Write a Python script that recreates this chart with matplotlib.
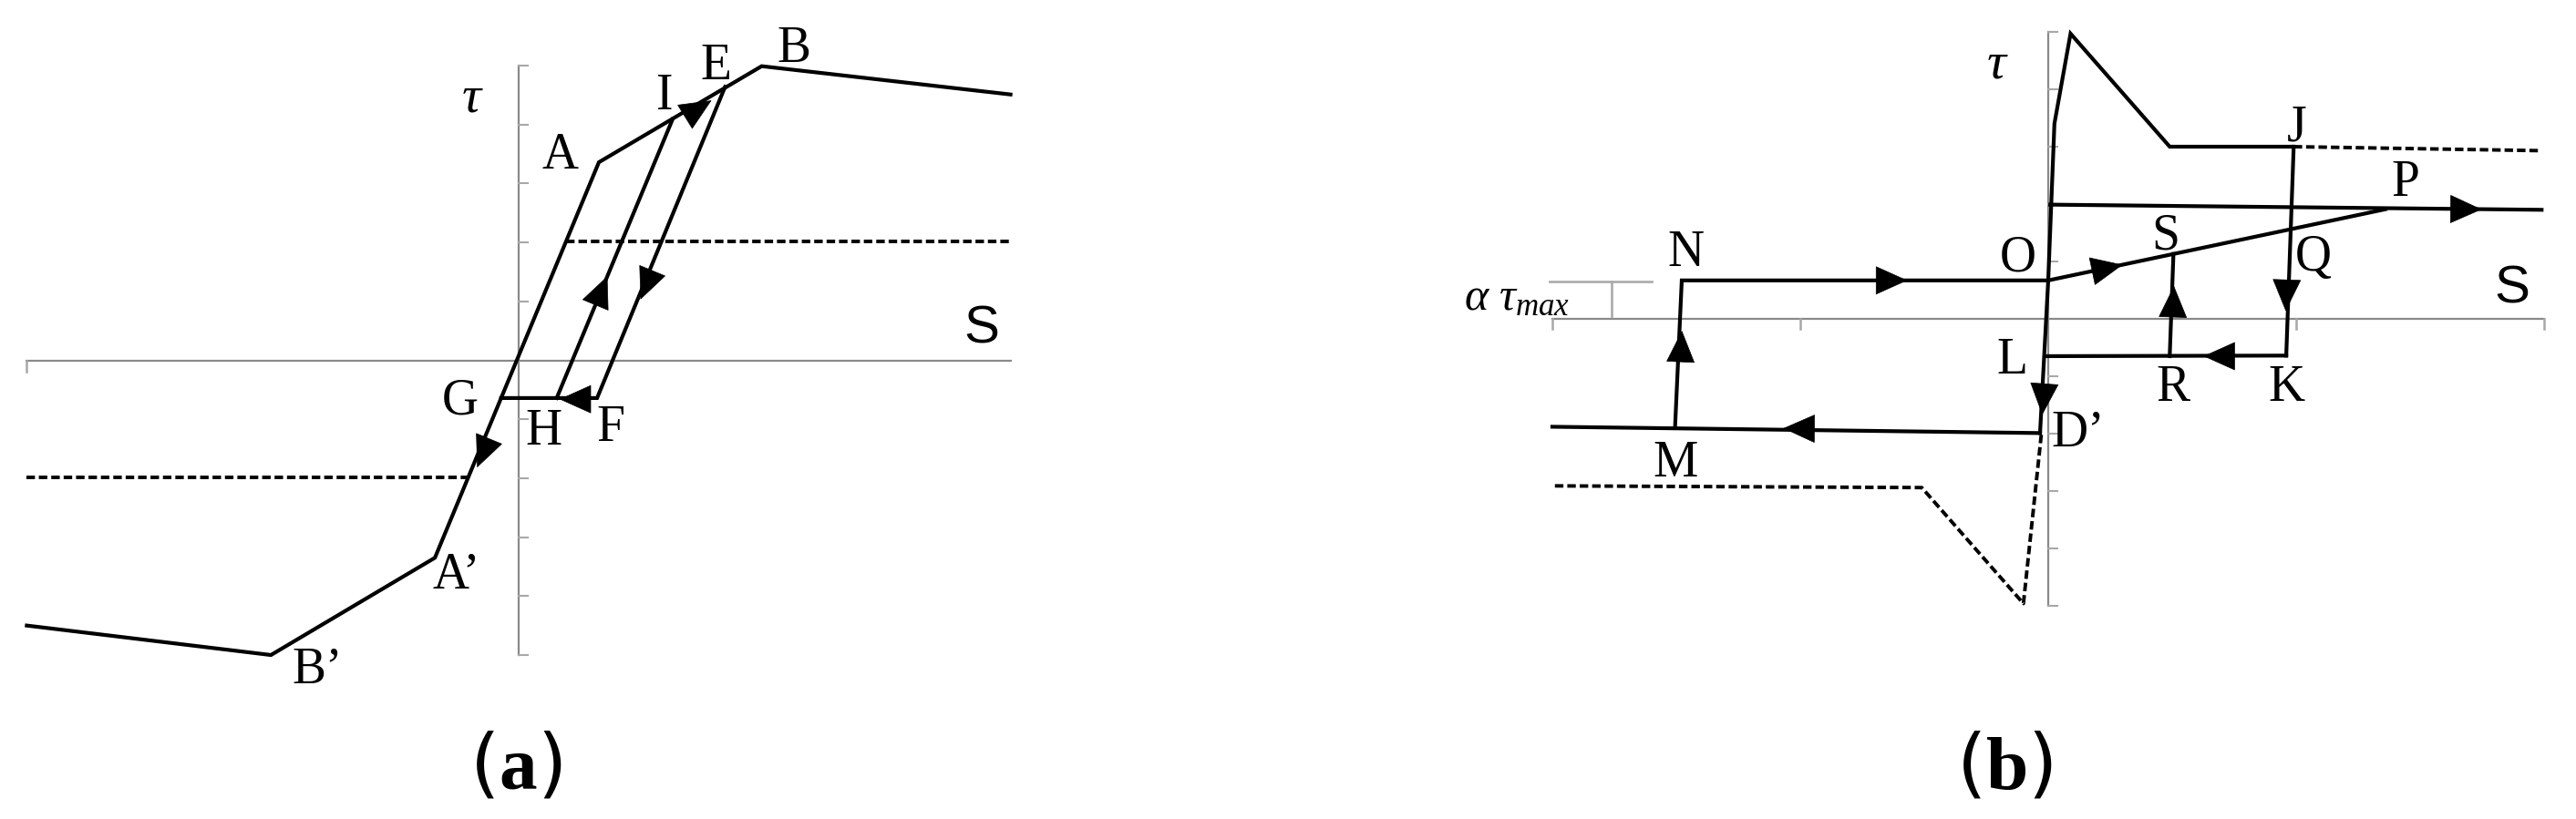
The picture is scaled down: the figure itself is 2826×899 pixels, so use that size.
import numpy as np
import matplotlib
matplotlib.use("Agg")
import matplotlib.pyplot as plt
from matplotlib.patches import FancyArrowPatch

plt.rcParams['mathtext.fontset'] = 'custom'
plt.rcParams['mathtext.rm'] = 'Liberation Serif'
plt.rcParams['mathtext.it'] = 'Liberation Serif:italic'
plt.rcParams['mathtext.bf'] = 'Liberation Serif:bold'

# ---------------- panel (a) data ----------------
a_env_s = [-8.34, -4.20, -1.42, 1.36, 4.12, 8.34]
a_env_t = [-4.50, -5.00, -3.35, 3.36, 4.99, 4.51]
a_unload_s = [3.50, 1.33, -0.297]      # E -> F -> G
a_unload_t = [4.64, -0.64, -0.64]
a_reload_s = [0.645, 2.61]             # H -> I
a_reload_t = [-0.64, 4.09]
a_dash_up_s = [0.81, 8.34]
a_dash_up_t = [2.01, 2.01]
a_dash_lo_s = [-8.34, -0.86]
a_dash_lo_t = [-1.99, -1.99]
a_labels = ['τ', 'A', 'I', 'E', 'B', 'G', 'H', 'F', 'A’', 'B’']
a_label_s = [-0.80, 0.71, 2.47, 3.34, 4.67, -1.00, 0.42, 1.56, -1.06, -3.42]
a_label_t = [4.43, 3.47, 4.47, 4.99, 5.28, -0.70, -1.22, -1.15, -3.65, -5.26]
a_arrow_s = [3.06, 2.16, 0.94, 1.41, -0.61]
a_arrow_t = [4.28, 1.26, -0.66, 1.20, -1.59]
a_arrow_ds = [0.89, -2.17, -1.0, 1.965, -2.78]
a_arrow_dt = [0.55, -5.28, 0.0, 4.73, -6.71]
a_yticks = [-5, -4, -3, -2, -1, 1, 2, 3, 4, 5]

# ---------------- panel (b) data ----------------
b_env_s = [-0.033, 0.0, 0.025, 0.09, 0.49, 0.99]
b_env_t = [-1.99, 0.67, 3.40, 4.97, 3.00, 3.00]
b_dash_j_s = [0.99, 1.99]
b_dash_j_t = [3.00, 2.93]
b_jk_s = [0.99, 0.96]
b_jk_t = [3.00, -0.64]
b_kl_s = [0.96, -0.011]
b_kl_t = [-0.64, -0.65]
b_rs_s = [0.49, 0.505]
b_rs_t = [-0.65, 1.13]
b_op_s = [0.0, 1.36]
b_op_t = [0.67, 1.91]
b_top_s = [0.008, 1.99]
b_top_t = [1.99, 1.90]
b_dm_s = [-0.033, -2.0]
b_dm_t = [-1.99, -1.88]
b_mno_s = [-1.505, -1.478, 0.0]
b_mno_t = [-1.88, 0.67, 0.67]
b_dash_lo_s = [-0.028, -0.10, -0.51, -1.99]
b_dash_lo_t = [-2.02, -4.96, -2.94, -2.91]
b_labels = ['J', 'P', 'S', 'Q', 'O', 'N', 'L', 'R', 'K', 'D’', 'M']
b_label_s = [1.003, 1.44, 0.472, 1.07, -0.124, -1.46, -0.144, 0.505, 0.96, 0.12, -1.505]
b_label_t = [3.33, 2.36, 1.44, 1.06, 1.05, 1.15, -0.73, -1.21, -1.21, -2.00, -2.52]
b_arrow_s = [-0.627, 0.243, 1.69, 0.96, 0.685, 0.505, -0.02, -1.01, -1.48]
b_arrow_t = [0.67, 0.89, 1.91, 0.39, -0.65, 0.32, -1.42, -1.91, -0.46]
b_arrow_ds = [1.0, 1.36, 1.0, -0.03, -1.0, 0.015, -0.022, -1.0, 0.027]
b_arrow_dt = [0.0, 1.24, -0.045, -3.64, 0.0, 1.78, -1.34, 0.05, 2.55]
b_xticks = [-2, -1, 1, 2]
b_yticks = [-5, -4, -3, -2, -1, 1, 2, 3, 4, 5]

W, H = 2826, 899
fig = plt.figure(figsize=(W / 100, H / 100), dpi=100)
fig.patch.set_facecolor('white')


def make_ax(ox, oy, ux, uy, xlim, ylim):
    x0 = ox + xlim[0] * ux
    x1 = ox + xlim[1] * ux
    ytop = oy - ylim[1] * uy
    ybot = oy - ylim[0] * uy
    ax = fig.add_axes([x0 / W, 1 - ybot / H, (x1 - x0) / W, (ybot - ytop) / H])
    ax.set_xlim(xlim)
    ax.set_ylim(ylim)
    ax.axis('off')
    return ax


AX_C = '#8a8a8a'
TK_C = '#a8a8a8'
LW = 3.0
SERIF = 'Liberation Serif'
LFS = 40


def arrow(ax, x, y, dx, dy, hl_px=32):
    tr = ax.transData
    c = tr.transform((x, y))
    d = tr.transform((x + dx, y + dy)) - c
    d = d / np.hypot(*d)
    tip = tr.inverted().transform(c + d * hl_px * 0.5)
    tail = tr.inverted().transform(c - d * hl_px * 0.5)
    p = FancyArrowPatch(posA=tuple(tail), posB=tuple(tip),
                        arrowstyle='-|>,head_length=1.0,head_width=0.45',
                        mutation_scale=24, lw=0.5, color='black',
                        shrinkA=0, shrinkB=0, zorder=5)
    ax.add_patch(p)


def dashed(ax, s, t):
    ax.plot(s, t, color='black', lw=2.8, dashes=(2.4, 1.1), solid_capstyle='butt')


# ---------------- panel (a) ----------------
ua = 64.7
axa = make_ax(569, 395.5, ua, ua, (-8.7, 8.7), (-6.0, 6.0))
tka = 10 / ua
axa.plot([-8.34, 8.34], [0, 0], color=AX_C, lw=1.6)
axa.plot([0, 0], [-5.0, 5.0], color=AX_C, lw=1.6)
for yt in a_yticks:
    axa.plot([0, tka], [yt, yt], color=TK_C, lw=1.5)
axa.plot([-8.34, -8.34], [0, -12 / ua], color=TK_C, lw=1.8)

axa.plot(a_env_s, a_env_t, color='black', lw=LW, solid_joinstyle='miter')
axa.plot(a_unload_s, a_unload_t, color='black', lw=LW, solid_joinstyle='miter')
axa.plot(a_reload_s, a_reload_t, color='black', lw=LW)
dashed(axa, a_dash_up_s, a_dash_up_t)
dashed(axa, a_dash_lo_s, a_dash_lo_t)
for x, y, dx, dy in zip(a_arrow_s, a_arrow_t, a_arrow_ds, a_arrow_dt):
    arrow(axa, x, y, dx, dy)
for lab, x, y in zip(a_labels, a_label_s, a_label_t):
    if lab == 'τ':
        axa.text(x, y, lab, fontsize=42, family=SERIF, style='italic',
                 ha='center', va='center')
    else:
        axa.text(x, y, lab, fontsize=LFS, family=SERIF, ha='center', va='center')
axa.text(7.85, 0.52, 'S', fontsize=42, family='Liberation Sans', ha='center', va='center')

# ---------------- panel (b) ----------------
uxb, uyb = 272, 63
axb = make_ax(2247, 350, uxb, uyb, (-2.2, 2.1), (-5.4, 5.4))
axb.plot([-2.0, 2.0], [0, 0], color=AX_C, lw=1.6)
axb.plot([0, 0], [-5.0, 5.0], color=AX_C, lw=1.6)
for yt in b_yticks:
    axb.plot([0, 10 / uxb], [yt, yt], color=TK_C, lw=1.5)
for xt in b_xticks:
    axb.plot([xt, xt], [0, -11 / uyb], color=TK_C, lw=1.8)

axb.plot(b_env_s, b_env_t, color='black', lw=LW, solid_joinstyle='miter')
dashed(axb, b_dash_j_s, b_dash_j_t)
for s, t in [(b_jk_s, b_jk_t), (b_kl_s, b_kl_t), (b_rs_s, b_rs_t), (b_op_s, b_op_t),
             (b_top_s, b_top_t), (b_dm_s, b_dm_t), (b_mno_s, b_mno_t)]:
    axb.plot(s, t, color='black', lw=LW, solid_joinstyle='miter')
dashed(axb, b_dash_lo_s, b_dash_lo_t)
for x, y, dx, dy in zip(b_arrow_s, b_arrow_t, b_arrow_ds, b_arrow_dt):
    arrow(axb, x, y, dx, dy)
for lab, x, y in zip(b_labels, b_label_s, b_label_t):
    axb.text(x, y, lab, fontsize=LFS, family=SERIF, ha='center', va='center')
axb.text(-0.21, 4.42, 'τ', fontsize=42, family=SERIF, style='italic',
         ha='center', va='center')
axb.text(1.87, 0.52, 'S', fontsize=42, family='Liberation Sans', ha='center', va='center')

# alpha tau_max bracket
axb.plot([-2.01, -1.60], [0.65, 0.65], color='#aaaaaa', lw=1.9)
axb.plot([-1.76, -1.76], [0.65, 0.05], color='#aaaaaa', lw=1.9)
axb.text(-1.93, 0.38, r'$\alpha\ \tau_{max}$', fontsize=36, ha='right', va='center')

# panel captions
fig.text(566 / W, 1 - 842 / H, r'($\mathbf{a}$)', fontsize=60, ha='center', va='center')
fig.text(2199 / W, 1 - 842 / H, r'($\mathbf{b}$)', fontsize=60, ha='center', va='center')

fig.savefig('out.png', dpi=100, facecolor='white')
